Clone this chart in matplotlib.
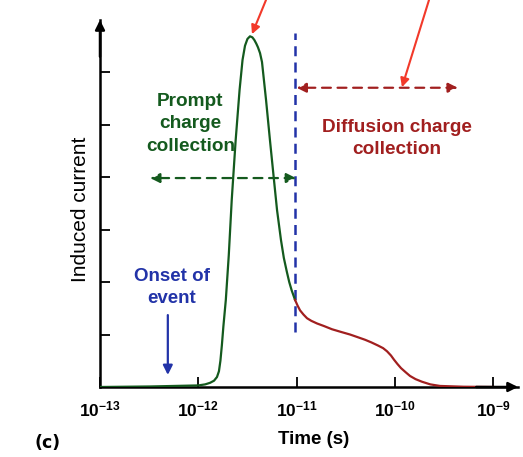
import numpy as np
import matplotlib
matplotlib.use("Agg")
import matplotlib.pyplot as plt

plt.rcParams['font.family'] = ['Liberation Sans', 'DejaVu Sans']
plt.rcParams['mathtext.fontset'] = 'custom'
plt.rcParams['mathtext.rm'] = 'Liberation Sans:bold'
plt.rcParams['mathtext.bf'] = 'Liberation Sans:bold'

# log10(time) and induced current (arbitrary units)
prompt_t = [-13.0, -12.49, -12.0, -11.93, -11.88, -11.84, -11.81, -11.79, -11.775,
            -11.76, -11.745, -11.72, -11.69, -11.66, -11.62, -11.58, -11.55, -11.525,
            -11.50, -11.474, -11.45, -11.43, -11.41, -11.393, -11.372, -11.352,
            -11.311, -11.271, -11.23, -11.199, -11.159, -11.13, -11.10, -11.075,
            -11.05, -11.016]
prompt_i = [0.0, 0.01, 0.03, 0.05, 0.08, 0.12, 0.19, 0.30, 0.50,
            0.80, 1.15, 1.66, 2.51, 3.56, 4.70, 5.66, 6.23, 6.50,
            6.63, 6.68, 6.66, 6.61, 6.54, 6.47, 6.36, 6.19,
            5.47, 4.70, 3.94, 3.37, 2.80, 2.46, 2.20, 2.00,
            1.84, 1.66]

diff_t = [-11.016, -10.99, -10.965, -10.93, -10.894, -10.85, -10.792, -10.72,
          -10.64, -10.55, -10.457, -10.38, -10.304, -10.24, -10.172, -10.12,
          -10.08, -10.04, -10.009, -9.975, -9.938, -9.89, -9.846, -9.79, -9.724,
          -9.64, -9.541, -9.3, -9.0]
diff_i = [1.66, 1.55, 1.46, 1.38, 1.31, 1.26, 1.21, 1.16,
          1.10, 1.05, 1.00, 0.95, 0.90, 0.85, 0.79, 0.74,
          0.68, 0.60, 0.52, 0.44, 0.36, 0.28, 0.21, 0.15, 0.10,
          0.05, 0.02, 0.005, 0.0]

decades = [-13, -12, -11, -10, -9]
y_ticks = [1, 2, 3, 4, 5, 6]

green = '#145a1e'
dkred = '#a11f1f'
blue = '#2233a8'
brred = '#f2392a'

fig = plt.figure(figsize=(5.23, 4.57), dpi=100)
W, H = 523, 457
ax = fig.add_axes([100 / W, 1 - 387 / H, 418 / W, 367 / H])

ax.set_xscale('log')
ax.set_xlim(1e-13, 10 ** (-13 + 418 / 98.3))
ax.set_ylim(0, 367 / 52.5)

ax.plot(10.0 ** np.array(prompt_t), prompt_i, color=green, lw=1.6, zorder=3,
        solid_joinstyle='round')
ax.plot(10.0 ** np.array(diff_t), diff_i, color=dkred, lw=1.6, zorder=3,
        solid_joinstyle='round')

# axes with arrow heads
for s in ['top', 'right']:
    ax.spines[s].set_visible(False)
for s in ['left', 'bottom']:
    ax.spines[s].set_linewidth(1.8)
ax.annotate('', xy=(1.0, 0), xytext=(0.9, 0), xycoords='axes fraction',
            arrowprops=dict(arrowstyle='-|>', color='k', lw=1.8, mutation_scale=14,
                            shrinkA=0, shrinkB=0), annotation_clip=False)
ax.annotate('', xy=(0, 1.0), xytext=(0, 0.9), xycoords='axes fraction',
            arrowprops=dict(arrowstyle='-|>', color='k', lw=1.8, mutation_scale=14,
                            shrinkA=0, shrinkB=0), annotation_clip=False)

ax.set_xticks([10.0 ** d for d in decades])
ax.set_xticklabels([r'$\mathbf{10^{%d}}$' % d for d in decades])
ax.xaxis.set_minor_locator(matplotlib.ticker.NullLocator())
ax.set_yticks(y_ticks)
ax.set_yticklabels([])
ax.tick_params(axis='both', direction='in', length=7, width=1.3, color='k')
ax.tick_params(axis='x', pad=9, labelsize=12.5)

# separation line
ax.plot([10 ** -11.016] * 2, [1.05, 6.74], color=blue, lw=1.8, ls=(0, (4, 2.5)), zorder=2)

# double arrows
ax.annotate('', xy=(10 ** -12.49, 3.98), xytext=(10 ** -11.006, 3.98),
            arrowprops=dict(arrowstyle='<|-|>', color=green, lw=1.6, ls=(0, (4, 3)),
                            mutation_scale=14, shrinkA=0, shrinkB=0))
ax.annotate('', xy=(10 ** -11.0, 5.70), xytext=(10 ** -9.36, 5.70),
            arrowprops=dict(arrowstyle='<|-|>', color=dkred, lw=1.6, ls=(0, (4, 3)),
                            mutation_scale=14, shrinkA=0, shrinkB=0))

# onset arrow
ax.annotate('', xy=(10 ** -12.31, 0.23), xytext=(10 ** -12.31, 1.37),
            arrowprops=dict(arrowstyle='-|>', color=blue, lw=1.6,
                            mutation_scale=14, shrinkA=0, shrinkB=0))

# red pointers from above
ax.annotate('', xy=(10 ** -11.454, 6.72), xytext=(266, H), textcoords='figure pixels',
            arrowprops=dict(arrowstyle='-|>', color=brred, lw=1.5,
                            mutation_scale=13, shrinkA=0, shrinkB=0), annotation_clip=False)
ax.annotate('', xy=(10 ** -9.928, 5.71), xytext=(429, H), textcoords='figure pixels',
            arrowprops=dict(arrowstyle='-|>', color=brred, lw=1.5,
                            mutation_scale=13, shrinkA=0, shrinkB=0), annotation_clip=False)

# annotations
ax.text(10 ** -12.08, 5.01, 'Prompt\ncharge\ncollection', color=green, fontsize=13.7,
        fontweight='bold', ha='center', va='center', linespacing=1.4)
ax.text(10 ** -9.98, 4.73, 'Diffusion charge\ncollection', color=dkred, fontsize=13.7,
        fontweight='bold', ha='center', va='center', linespacing=1.4)
ax.text(10 ** -12.27, 1.89, 'Onset of\nevent', color=blue, fontsize=13.5,
        fontweight='bold', ha='center', va='center', linespacing=1.4)

fig.text(80 / W, 1 - 209 / H, 'Induced current', rotation=90, fontsize=15,
         ha='center', va='center')
fig.text(314 / W, 1 - 440 / H, 'Time (s)', fontsize=13.5, fontweight='bold',
         ha='center', va='center')
fig.text(48 / W, 1 - 443 / H, '(c)', fontsize=12.5, fontweight='bold',
         family='DejaVu Sans', ha='center', va='center')

fig.savefig('out.png', dpi=100)
